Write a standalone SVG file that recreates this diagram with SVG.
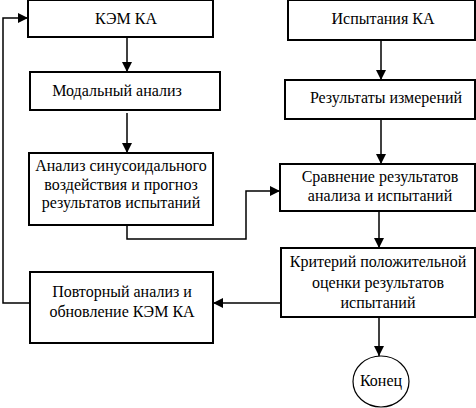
<svg xmlns="http://www.w3.org/2000/svg" width="476" height="408" viewBox="0 0 476 408">
<defs>
<style>
.box{fill:#fff;stroke:#000;stroke-width:2}
.t{font-family:'Liberation Serif','Times New Roman',serif;font-size:16px;fill:#000;text-anchor:middle}
.c{fill:none;stroke:#000;stroke-width:1.5}
</style>
<marker id="ah" viewBox="0 0 10 10" refX="10" refY="5" markerWidth="10" markerHeight="10" markerUnits="userSpaceOnUse" orient="auto">
<path d="M0,0 L10,5 L0,10 z" fill="#000"/>
</marker>
</defs>
<g id="connectors">
<path class="c" d="M127,37 V72" marker-end="url(#ah)"/>
<path class="c" d="M127,113 V153" marker-end="url(#ah)"/>
<path class="c" d="M127,225 V239 H246 V191 H280" marker-end="url(#ah)"/>
<path class="c" d="M381,40 V80" marker-end="url(#ah)"/>
<path class="c" d="M381,119 V164" marker-end="url(#ah)"/>
<path class="c" d="M379,211 V248" marker-end="url(#ah)"/>
<path class="c" d="M281,303 H213" marker-end="url(#ah)"/>
<path class="c" d="M30,303 H3 V18 H28" marker-end="url(#ah)"/>
<path class="c" d="M379,317 V356" marker-end="url(#ah)"/>
</g>
<g id="kem">
<rect class="box" x="28" y="0" width="185" height="37"/>
<text class="t" x="126" y="24">КЭМ КА</text>
</g>
<g id="modal">
<rect class="box" x="30" y="72" width="190" height="38"/>
<text class="t" x="117" y="96">Модальный анализ</text>
</g>
<g id="sinus">
<rect class="box" x="29" y="153" width="184" height="72"/>
<text class="t" x="121" y="171">Анализ синусоидального</text>
<text class="t" x="121" y="189.5">воздействия и прогноз</text>
<text class="t" x="121" y="208">результатов испытаний</text>
</g>
<g id="tests">
<rect class="box" x="288" y="0" width="187" height="40"/>
<text class="t" x="383" y="24">Испытания КА</text>
</g>
<g id="meas">
<rect class="box" x="285" y="80" width="190" height="39"/>
<text class="t" x="386" y="103">Результаты измерений</text>
</g>
<g id="compare">
<rect class="box" x="280" y="164" width="195" height="47"/>
<text class="t" x="380" y="182">Сравнение результатов</text>
<text class="t" x="380" y="201">анализа и испытаний</text>
</g>
<g id="criterion">
<rect class="box" x="281" y="248" width="194" height="69"/>
<text class="t" x="378" y="267">Критерий положительной</text>
<text class="t" x="378" y="288">оценки результатов</text>
<text class="t" x="378" y="308">испытаний</text>
</g>
<g id="repeat">
<rect class="box" x="30" y="272" width="183" height="71"/>
<text class="t" x="122" y="297">Повторный анализ и</text>
<text class="t" x="122" y="317">обновление КЭМ КА</text>
</g>
<g id="end">
<ellipse cx="381" cy="381.5" rx="28" ry="25.5" fill="#fff" stroke="#000" stroke-width="1.2"/>
<text class="t" x="381" y="386">Конец</text>
</g>
</svg>
